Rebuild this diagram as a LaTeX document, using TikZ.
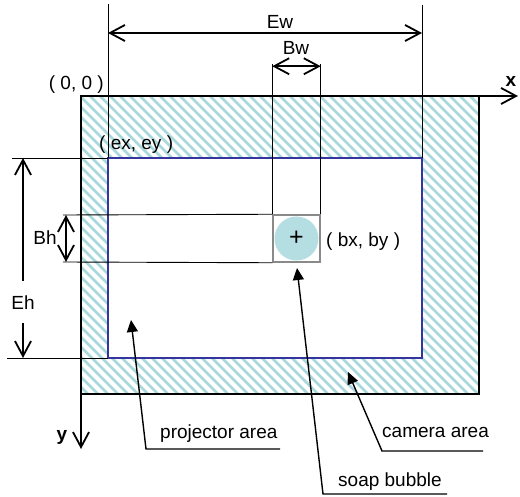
\documentclass[tikz,border=0pt]{standalone}
\usepackage{fontspec}
\setmainfont{Liberation Sans}
\usetikzlibrary{calc, positioning, arrows.meta}
\definecolor{hatchC}{HTML}{A9D8DC}
\definecolor{bubC}{HTML}{B5DEE3}
\definecolor{projBlue}{HTML}{3535A0}
\definecolor{boxGray}{HTML}{8A8A8A}
\tikzset{
  lbl/.style={font=\fontsize{19}{22}\selectfont, inner sep=0pt},
  axlbl/.style={font=\fontsize{19}{22}\selectfont\bfseries, inner sep=0pt},
  barb/.tip={Straight Barb[length=15pt, width=16pt]},
  dim/.style={barb-barb, line width=1.8pt},
  dimhalf/.style={-barb, line width=1.8pt},
  ext/.style={line width=0.9pt},
  lead/.style={-{Triangle[length=12pt, width=11pt]}, line width=1.4pt},
  hatch/.style={hatchC, line width=2.7pt},
}
\def\OutL{81}
\def\OutT{96}
\def\OutR{479}
\def\OutB{394}
\def\InL{108}
\def\InT{158}
\def\InR{422}
\def\InB{358}

\begin{document}
\begin{tikzpicture}[x=1pt, y=-1pt]
  \useasboundingbox (0,0) rectangle (520,497);

  % ----- camera area (hatched frame) -----
  \coordinate (OutTL) at (\OutL, \OutT);
  \coordinate (OutBR) at (\OutR, \OutB);
  \coordinate (OutBL) at (\OutL, \OutB);
  \begin{scope}
    \clip (OutTL) rectangle (OutBR);
    \foreach \k in {-32,...,48}
      \draw[hatch] (\k*10, \OutT) -- ++(400, 400);
  \end{scope}

  % ----- projector area -----
  \coordinate (InTL) at (\InL, \InT);
  \coordinate (InTR) at (\InR, \InT);
  \coordinate (InBL) at (\InL, \InB);
  \coordinate (InBR) at (\InR, \InB);
  \fill[white] (InTL) rectangle (InBR);
  \draw[projBlue, line width=1.5pt] (InTL) rectangle (InBR);
  \draw[line width=2pt] (OutTL) rectangle (OutBR);

  % ----- axes -----
  \coordinate (xEnd) at (518, \OutT);
  \coordinate (yEnd) at (\OutL, 449);
  \draw[dimhalf] (OutTL) -- (xEnd);
  \draw[dimhalf] (OutBL) -- (yEnd);
  \node[axlbl] (xLbl) at (511, 81) {x};
  \node[axlbl] (yLbl) at (62, 437) {y};
  \node[lbl, anchor=east] (origin) at (104, 85) {( 0, 0 )};
  \node[lbl, anchor=west] (exey) at (99, 145) {( ex, ey )};

  % ----- soap bubble -----
  \node[draw=boxGray, line width=1.5pt, minimum size=47pt, inner sep=0pt]
    (bbox) at (296.5, 238.5) {};
  \node[circle, fill=bubC, minimum size=44pt, inner sep=0pt,
    font=\fontsize{25}{25}\selectfont] (bub) at (bbox) {+};
  \node[lbl, anchor=west] (bxby) at (326, 242) {( bx, by )};

  % ----- Ew -----
  \coordinate (EwL) at (\InL, 4);
  \coordinate (EwR) at (\InR, 5);
  \draw[ext] (EwL) -- (InTL);
  \draw[ext] (EwR) -- (InTR);
  \draw[dim] (\InL, 33) -- (\InR, 33);
  \node[lbl] (EwLbl) at (280, 22) {Ew};

  % ----- Bw -----
  \coordinate (BwL) at ($(bbox.north west)+(0,-150)$);
  \coordinate (BwR) at ($(bbox.north east)+(0,-150)$);
  \draw[ext] (BwL) -- (bbox.north west);
  \draw[ext] (BwR) -- (bbox.north east);
  \draw[dim] ($(BwL)+(0,2)$) -- ($(BwR)+(0,2)$);
  \node[lbl] (BwLbl) at (296, 48) {Bw};

  % ----- Eh -----
  \coordinate (EhT) at (12, \InT);
  \coordinate (EhB) at (7, \InB);
  \draw[ext] (EhT) -- (InTL);
  \draw[ext] (EhB) -- (InBL);
  \node[lbl] (EhLbl) at (23, 303) {Eh};
  \draw[dimhalf] (23, 281) -- (23, \InT);
  \draw[dimhalf] (23, 323) -- (23, \InB);

  % ----- Bh -----
  \coordinate (BhT) at (63, 215);
  \coordinate (BhB) at (63, 262);
  \draw[ext] (BhT) -- (bbox.north west);
  \draw[ext] (BhB) -- (bbox.south west);
  \draw[dim] (66, 215) -- (66, 262);
  \node[lbl] (BhLbl) at (45, 238) {Bh};

  % ----- leaders -----
  \node[lbl, anchor=base west] (projLbl) at (160, 438) {projector area};
  \node[lbl, anchor=base west] (camLbl) at (382, 437) {camera area};
  \node[lbl, anchor=base west] (soapLbl) at (338, 486) {soap bubble};
  \coordinate (projFoot) at (146, 449);
  \coordinate (projEnd) at (280, 449);
  \coordinate (projTip) at (131, 320);
  \coordinate (camFoot) at (382, 451);
  \coordinate (camEnd) at (483, 451);
  \coordinate (camTip) at (348, 372);
  \coordinate (soapFoot) at (323, 494);
  \coordinate (soapEnd) at (447, 494);
  \coordinate (soapTip) at (297, 268);
  \draw[lead] (projEnd) -- (projFoot) -- (projTip);
  \draw[lead] (camEnd) -- (camFoot) -- (camTip);
  \draw[lead] (soapEnd) -- (soapFoot) -- (soapTip);
\end{tikzpicture}
\end{document}
